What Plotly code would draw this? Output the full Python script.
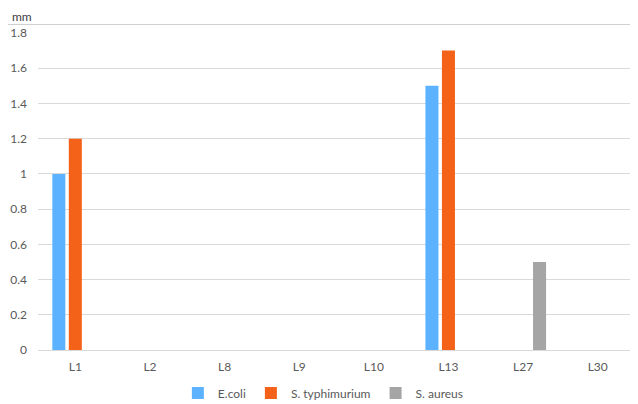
import plotly.graph_objects as go

# strains tested and inhibition zones (mm)
categories = ["L1", "L2", "L8", "L9", "L10", "L13", "L27", "L30"]
ecoli = [1.0, 0, 0, 0, 0, 1.5, 0, 0]
typhimurium = [1.2, 0, 0, 0, 0, 1.7, 0, 0]
aureus = [0, 0, 0, 0, 0, 0, 0.5, 0]

series_names = ["E.coli", "S. typhimurium", "S. aureus"]
series_colors = ["#5DB2FF", "#F4621A", "#A5A5A5"]

fig = go.Figure()

for name, vals, col in zip(series_names, [ecoli, typhimurium, aureus], series_colors):
    fig.add_trace(
        go.Bar(
            x=categories,
            y=vals,
            name=name,
            marker_color=col,
            marker_line_width=0,
        )
    )

txt = "#595959"
grid = "#D9D9D9"

# page body keeps its default 8px margin, so the figure is 8px smaller
fig.update_layout(
    barmode="group",
    bargap=0.337,
    bargroupgap=0.21,
    width=630,
    height=396,
    margin=dict(l=30, r=3, t=25, b=54, autoexpand=False),
    paper_bgcolor="#ffffff",
    plot_bgcolor="#ffffff",
    font=dict(family="Lato, 'Open Sans', sans-serif", size=12, color=txt),
    showlegend=True,
    legend=dict(
        orientation="h",
        x=0.478,
        xanchor="center",
        y=-0.136,
        yanchor="middle",
        font=dict(size=12, color=txt),
        itemwidth=30,
    ),
)

# Set axes
fig.update_xaxes(
    showgrid=False,
    showline=True,
    linecolor=grid,
    linewidth=1,
    ticks="",
    ticklabelstandoff=6,
    tickfont=dict(color=txt),
    automargin=False,
)
fig.update_yaxes(
    range=[0, 1.8],
    dtick=0.2,
    showgrid=True,
    gridcolor=grid,
    gridwidth=1,
    zeroline=False,
    showline=False,
    ticks="",
    ticklabelstandoff=10,
    tickfont=dict(color=txt),
    automargin=False,
)

# unit label on top left
fig.add_annotation(
    text="mm",
    xref="paper", yref="paper",
    x=-0.026, y=1.0536,
    xanchor="center", yanchor="middle",
    showarrow=False,
    borderpad=0,
    font=dict(size=12, color="#404040"),
)

# chart frame top edge (rest is cut off by the page)
fig.add_shape(
    type="line",
    xref="paper", yref="paper",
    x0=-0.06, x1=1.1, y0=1.0268, y1=1.0268,
    line=dict(color="#D0D0D0", width=1),
    layer="above",
)

fig.write_html("out.html")
